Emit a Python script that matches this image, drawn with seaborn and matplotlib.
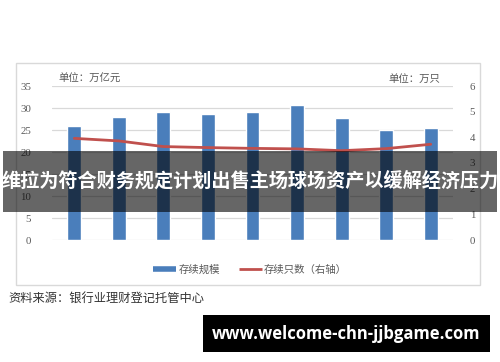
import numpy as np
import pandas as pd
import matplotlib
matplotlib.use("Agg")
import matplotlib.pyplot as plt
import seaborn as sns
from matplotlib.patches import Rectangle
from matplotlib.lines import Line2D

periods = ["2021.06", "2021.09", "2021.12", "2022.03", "2022.06",
           "2022.09", "2022.12", "2023.03", "2023.06"]
scale = [25.9, 28.0, 29.1, 28.6, 29.2, 30.7, 27.8, 25.1, 25.5]
count = [3.96, 3.86, 3.64, 3.60, 3.57, 3.55, 3.48, 3.56, 3.73]
left_ticks = [0, 5, 10, 15, 20, 25, 30, 35]
right_ticks = [0, 1, 2, 3, 4, 5, 6]

title = "维拉为符合财务规定计划出售主场球场资产以缓解经济压力"
source = "资料来源：银行业理财登记托管中心"
watermark = "www.welcome-chn-jjbgame.com"

df = pd.DataFrame({"period": periods, "scale": scale, "count": count})
df["pos"] = np.arange(len(df))

sns.set_theme(style="white")
plt.rcParams["font.family"] = ["Noto Sans CJK SC", "DejaVu Sans"]

W, H = 500, 362
fig = plt.figure(figsize=(5, 3.62), dpi=100)
fig.patch.set_facecolor("white")

def fx(px):
    return px / W

def fy(py):
    return 1 - py / H

ax = fig.add_axes([fx(52), fy(240), fx(453) - fx(52), fy(86) - fy(240)])
ax2 = ax.twinx()

blue = "#4A7EBB"
red = "#C0504D"
grey = "#595959"

sns.barplot(data=df, x="period", y="scale", color=blue, width=0.31,
            saturation=1, ax=ax, zorder=2)
sns.lineplot(data=df, x="pos", y="count", color=red, linewidth=2.0,
             sort=False, ax=ax2)

ax.set_xlim(-0.5, len(periods) - 0.5)
ax.set_ylim(0, 35)
ax2.set_ylim(0, 6)
ax.set_yticks(left_ticks)
ax2.set_yticks(right_ticks)
ax.yaxis.grid(True, color="#D9D9D9", linewidth=0.9, zorder=0)
ax.set_axisbelow(True)
for a in (ax, ax2):
    for s in a.spines.values():
        s.set_visible(False)
    a.set_xlabel("")
    a.set_ylabel("")
ax.tick_params(axis="both", length=0, colors=grey, labelsize=7.8)
ax2.tick_params(axis="both", length=0, colors=grey, labelsize=7.8)
ax.tick_params(axis="y", pad=15)
ax2.tick_params(axis="y", pad=12)
ax.tick_params(axis="x", pad=5)
for lab in ax.get_xticklabels() + ax.get_yticklabels() + ax2.get_yticklabels():
    lab.set_fontfamily("Liberation Serif")
ax2.set_xticks([])

# unit labels
fig.text(fx(58), fy(79), "单位：万亿元", fontsize=7.5, color=grey,
         va="center", ha="left")
fig.text(fx(388), fy(79), "单位：万只", fontsize=7.5, color=grey,
         va="center", ha="left")

# chart frame
fig.add_artist(Rectangle((fx(16), fy(285)), fx(480) - fx(16), fy(63) - fy(285),
                         transform=fig.transFigure, fill=False,
                         edgecolor="#D9D9D9", linewidth=1.0, zorder=1))

# legend
handles = [Line2D([0], [0], color=blue, linewidth=4.0, solid_capstyle="butt"),
           Line2D([0], [0], color=red, linewidth=2.0, solid_capstyle="butt")]
leg = fig.legend(handles, ["存续规模", "存续只数（右轴）"], loc="center",
                 bbox_to_anchor=(0.5, fy(270)), ncol=2, frameon=False,
                 fontsize=7.5, handlelength=2.2, handletextpad=0.2,
                 columnspacing=1.8)
for t in leg.get_texts():
    t.set_color(grey)

# source
fig.text(fx(8), fy(298), source, fontsize=8.8, color="#333333",
         va="center", ha="left")

# title band
fig.add_artist(Rectangle((fx(3), fy(212)), fx(497) - fx(3), fy(151) - fy(212),
                         transform=fig.transFigure, facecolor="black",
                         alpha=0.6, edgecolor="none", zorder=10))
fig.text(0.5, fy(181), title, fontsize=13.8, fontweight="bold", color="white",
         ha="center", va="center", zorder=11)

# watermark box
fig.add_artist(Rectangle((fx(203), fy(352)), fx(490) - fx(203), fy(315) - fy(352),
                         transform=fig.transFigure, facecolor="black",
                         edgecolor="none", zorder=10))
fig.text(fx(346.5), fy(334), watermark, fontsize=12, fontweight="bold",
         color="white", ha="center", va="center", zorder=11,
         family=["Open Sans", "DejaVu Sans"])

fig.savefig("out.png", dpi=100, facecolor="white")
